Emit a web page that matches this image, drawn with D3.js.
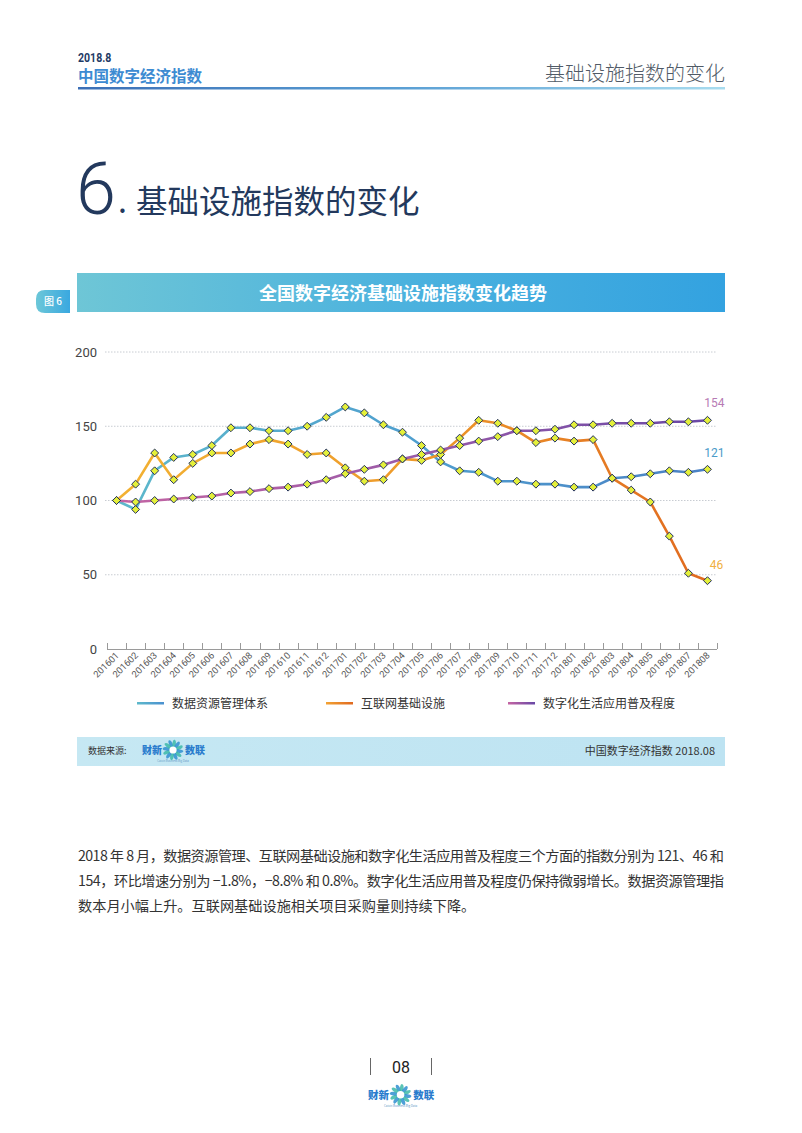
<!DOCTYPE html>
<html><head><meta charset="utf-8">
<script src="https://cdn.jsdelivr.net/npm/d3@7"></script>
<style>
html,body{margin:0;padding:0;background:#fff;}
svg{display:block;font-family:"Noto Sans CJK SC","Noto Sans",sans-serif;}
</style></head>
<body><svg id="c" width="802" height="1133"></svg>
<script>
const categories = ["201601","201602","201603","201604","201605","201606","201607","201608","201609","201610","201611","201612",
"201701","201702","201703","201704","201705","201706","201707","201708","201709","201710","201711","201712",
"201801","201802","201803","201804","201805","201806","201807","201808"];
const dataResource = [100,94,120,129,131,137,149,149,147,147,150,156,163,159,151,146,137,126,120,119,113,113,111,111,109,109,115,116,118,120,119,121];
const internetInfra = [100,111,132,114,125,132,132,138,141,138,131,132,122,113,114,128,127,131,142,154,152,147,139,142,140,141,115,107,99,76,51,46];
const digitalLife = [100,99,100,101,102,103,105,106,108,109,111,114,118,121,124,128,131,134,137,140,143,147,147,148,151,151,152,152,152,153,153,154];
const seriesNames = ["数据资源管理体系","互联网基础设施","数字化生活应用普及程度"];
const yTicks = [0,50,100,150,200];
const paragraph = [
 "2018 年 8 月，数据资源管理、互联网基础设施和数字化生活应用普及程度三个方面的指数分别为 121、46 和",
 "154，环比增速分别为 −1.8%，−8.8% 和 0.8%。数字化生活应用普及程度仍保持微弱增长。数据资源管理指",
 "数本月小幅上升。互联网基础设施相关项目采购量则持续下降。"
];

const svg = d3.select("#c");
const defs = svg.append("defs");
function lg(id, stops, x1, x2, units){
  const g = defs.append("linearGradient").attr("id", id);
  if(units){ g.attr("gradientUnits","userSpaceOnUse").attr("x1",x1).attr("x2",x2).attr("y1",0).attr("y2",0); }
  stops.forEach((c,i)=>g.append("stop").attr("offset", (i/(stops.length-1)*100)+"%").attr("stop-color", c));
  return "url(#"+id+")";
}
const hdrLine = lg("hdr", ["#3b6fb6","#5a9fd4","#a8dcef"]);
const banner = lg("ban", ["#6ec6d6","#4cb2de","#33a2e0"]);
const tagG = lg("tag", ["#6cc7d8","#3aa8e0"]);
const srcG = lg("src", ["#c6e8f3","#bde3f2"]);
const cBlue = lg("gBlue", ["#5db9cb","#4f9fcf","#4a80c4"], 107, 717, true);
const cOrange = lg("gOrange", ["#f2b233","#ee9a2a","#e0681f"], 107, 717, true);
const cPurple = lg("gPurple", ["#c565a3","#9a5aa8","#6848a6"], 107, 717, true);
const lgBlue = lg("lBlue", ["#5db9cb","#4a90d0"]);
const lgOrange = lg("lOrange", ["#f2a233","#e0681f"]);
const lgPurple = lg("lPurple", ["#c565a3","#6848a6"]);

// Header
svg.append("text").attr("x",78).attr("y",62).attr("font-family","Roboto").attr("font-weight",700)
  .attr("font-size",12).attr("fill","#1f3b66").attr("transform","translate(78,0) scale(0.88,1) translate(-78,0)").text("2018.8");
svg.append("text").attr("x",78).attr("y",81.5).attr("font-weight",700).attr("font-size",15.5).attr("fill","#3d8bd2").text("中国数字经济指数");
svg.append("text").attr("x",725).attr("y",81).attr("text-anchor","end").attr("font-weight",300).attr("font-size",20).attr("fill","#505a66").text("基础设施指数的变化");
svg.append("rect").attr("x",78).attr("y",87).attr("width",647).attr("height",2.5).attr("fill",hdrLine);

// Big section title
svg.append("text").attr("x",76).attr("y",214).attr("font-family","Roboto").attr("font-weight",300)
  .attr("font-size",72).attr("fill","#23395d").text("6");
svg.append("text").attr("x",118).attr("y",213).attr("font-weight",400).attr("font-size",32).attr("fill","#23395d").text(".");
svg.append("text").attr("x",136).attr("y",213).attr("font-weight",400).attr("font-size",31.5).attr("fill","#23395d").text("基础设施指数的变化");

// Banner
svg.append("rect").attr("x",77).attr("y",273).attr("width",648).attr("height",39).attr("fill",banner);
svg.append("text").attr("x",403).attr("y",300).attr("text-anchor","middle").attr("font-weight",700)
  .attr("font-size",18).attr("fill","#fff").text("全国数字经济基础设施指数变化趋势");
svg.append("path").attr("d","M45,290 H70 V313 H45 Q36,313 36,304 V299 Q36,290 45,290 Z").attr("fill",tagG);
svg.append("text").attr("x",53).attr("y",305).attr("text-anchor","middle").attr("font-weight",500)
  .attr("font-size",10).attr("fill","#fff").text("图 6");

// Chart
const x = d3.scaleBand().domain(categories).range([107,717]);
const y = d3.scaleLinear().domain([0,200]).range([649,352]);
const g = svg.append("g");
g.selectAll(".grid").data(yTicks.filter(d=>d>0)).join("line")
  .attr("x1",105).attr("x2",717).attr("y1",d=>y(d)).attr("y2",d=>y(d))
  .attr("stroke","#c8ccd2").attr("stroke-width",1).attr("stroke-dasharray","1.5,1.5");
g.selectAll(".yl").data(yTicks).join("text")
  .attr("x",97).attr("y",d=>y(d)+4.5).attr("text-anchor","end")
  .attr("font-family","Roboto").attr("font-size",13).attr("fill","#444").text(d=>d);
const xAxis = d3.axisBottom(x).tickSize(0).tickFormat("");
const ax = g.append("g").attr("transform","translate(0,649)").call(xAxis);
ax.select(".domain").attr("stroke","#9a9a9a").attr("stroke-width",1).attr("d","M107,0.5H717");
const edges = categories.map(c=>x(c)).concat([717]);
g.selectAll(".xt").data(edges).join("line")
  .attr("x1",d=>Math.round(d)+0.5).attr("x2",d=>Math.round(d)+0.5).attr("y1",643).attr("y2",649)
  .attr("stroke","#9a9a9a").attr("stroke-width",1);
g.selectAll(".xl").data(categories).join("text")
  .attr("transform",d=>`translate(${x(d)+x.bandwidth()/2+3},${656}) rotate(-45)`)
  .attr("text-anchor","end").attr("font-family","Roboto").attr("font-size",9.3).attr("fill","#555").text(d=>d);

const series = [
  {vals: dataResource, color: cBlue},
  {vals: internetInfra, color: cOrange},
  {vals: digitalLife, color: cPurple}
];
const line = d3.line().x((d,i)=>x(categories[i])+x.bandwidth()/2).y(d=>y(d));
series.forEach(s=>{
  g.append("path").attr("d",line(s.vals)).attr("fill","none").attr("stroke",s.color)
    .attr("stroke-width",2.6).attr("stroke-linejoin","round");
});
const diamond = d3.symbol().type(d3.symbolDiamond2).size(40);
series.forEach(s=>{
  g.selectAll(null).data(s.vals).join("path")
    .attr("d",diamond)
    .attr("transform",(d,i)=>`translate(${x(categories[i])+x.bandwidth()/2},${y(d)})`)
    .attr("fill","#e4f03a").attr("stroke","#22305e").attr("stroke-width",1);
});
const lastX = x(categories[categories.length-1])+x.bandwidth()/2;
const endLab = [
  {v: digitalLife[digitalLife.length-1], dy:-13, dx:7, c:"#b77bb4"},
  {v: dataResource[dataResource.length-1], dy:-12, dx:7, c:"#4b9bc9"},
  {v: internetInfra[internetInfra.length-1], dy:-12, dx:9, c:"#f0b040"}
];
endLab.forEach(l=>{
  g.append("text").attr("x",lastX+l.dx).attr("y",y(l.v)+l.dy).attr("text-anchor","middle")
    .attr("font-family","Roboto").attr("font-size",12).attr("fill",l.c).text(l.v);
});

// legend
const legendItems = [
  {name: seriesNames[0], c: lgBlue, x:137},
  {name: seriesNames[1], c: lgOrange, x:326},
  {name: seriesNames[2], c: lgPurple, x:508}
];
legendItems.forEach(l=>{
  svg.append("rect").attr("x",l.x).attr("y",702).attr("width",27).attr("height",2.5).attr("fill",l.c);
  svg.append("text").attr("x",l.x+35).attr("y",707.5).attr("font-size",12).attr("fill","#333").text(l.name);
});

// logo helper
function swirl(cx, cy, r){
  const gg = svg.append("g").attr("transform",`translate(${cx},${cy})`);
  d3.range(12).forEach(i=>{
    gg.append("ellipse").attr("cx",0).attr("cy",-r*0.62).attr("rx",r*0.2).attr("ry",r*0.4)
      .attr("transform",`rotate(${i*30}) skewX(20)`)
      .attr("fill", i%2 ? "#3cb8a8" : "#2f8fd0").attr("opacity",0.85);
  });
  gg.append("circle").attr("r",r*0.38).attr("fill","#fff");
}
function logo(x0, yb, scale){
  svg.append("text").attr("x",x0).attr("y",yb).attr("font-size",10*scale).attr("font-weight",900).attr("fill","#2a7ccd").text("财新");
  swirl(x0+31*scale, yb-4*scale, 9.5*scale);
  svg.append("text").attr("x",x0+43*scale).attr("y",yb).attr("font-size",10*scale).attr("font-weight",900).attr("fill","#2a7ccd").text("数联");
  svg.append("text").attr("x",x0+31*scale).attr("y",yb+8*scale).attr("text-anchor","middle").attr("font-size",2.8*scale).attr("fill","#6a9bc9").text("Caixin Business Big Data");
}

// source bar
svg.append("rect").attr("x",77).attr("y",737).attr("width",648).attr("height",29).attr("fill",srcG);
svg.append("text").attr("x",88).attr("y",754).attr("font-size",9).attr("fill","#333").text("数据来源:");
logo(142, 754, 1);
svg.append("text").attr("x",715).attr("y",755).attr("text-anchor","end").attr("font-size",11).attr("fill","#333").text("中国数字经济指数 2018.08");

// paragraph
paragraph.forEach((t,i)=>{
  const tx = svg.append("text").attr("x",78).attr("y",861+i*25).attr("font-size",14.2).attr("fill","#333").text(t);
  if(i<2) tx.attr("textLength",646).attr("lengthAdjust","spacing");
});

// footer
svg.append("line").attr("x1",370.5).attr("x2",370.5).attr("y1",1058).attr("y2",1075).attr("stroke","#666").attr("stroke-width",1);
svg.append("line").attr("x1",431.5).attr("x2",431.5).attr("y1",1058).attr("y2",1075).attr("stroke","#666").attr("stroke-width",1);
svg.append("text").attr("x",401).attr("y",1073).attr("text-anchor","middle").attr("font-family","Roboto").attr("font-size",16).attr("fill","#222").text("08");
logo(368, 1099, 1.05);
</script></body></html>
